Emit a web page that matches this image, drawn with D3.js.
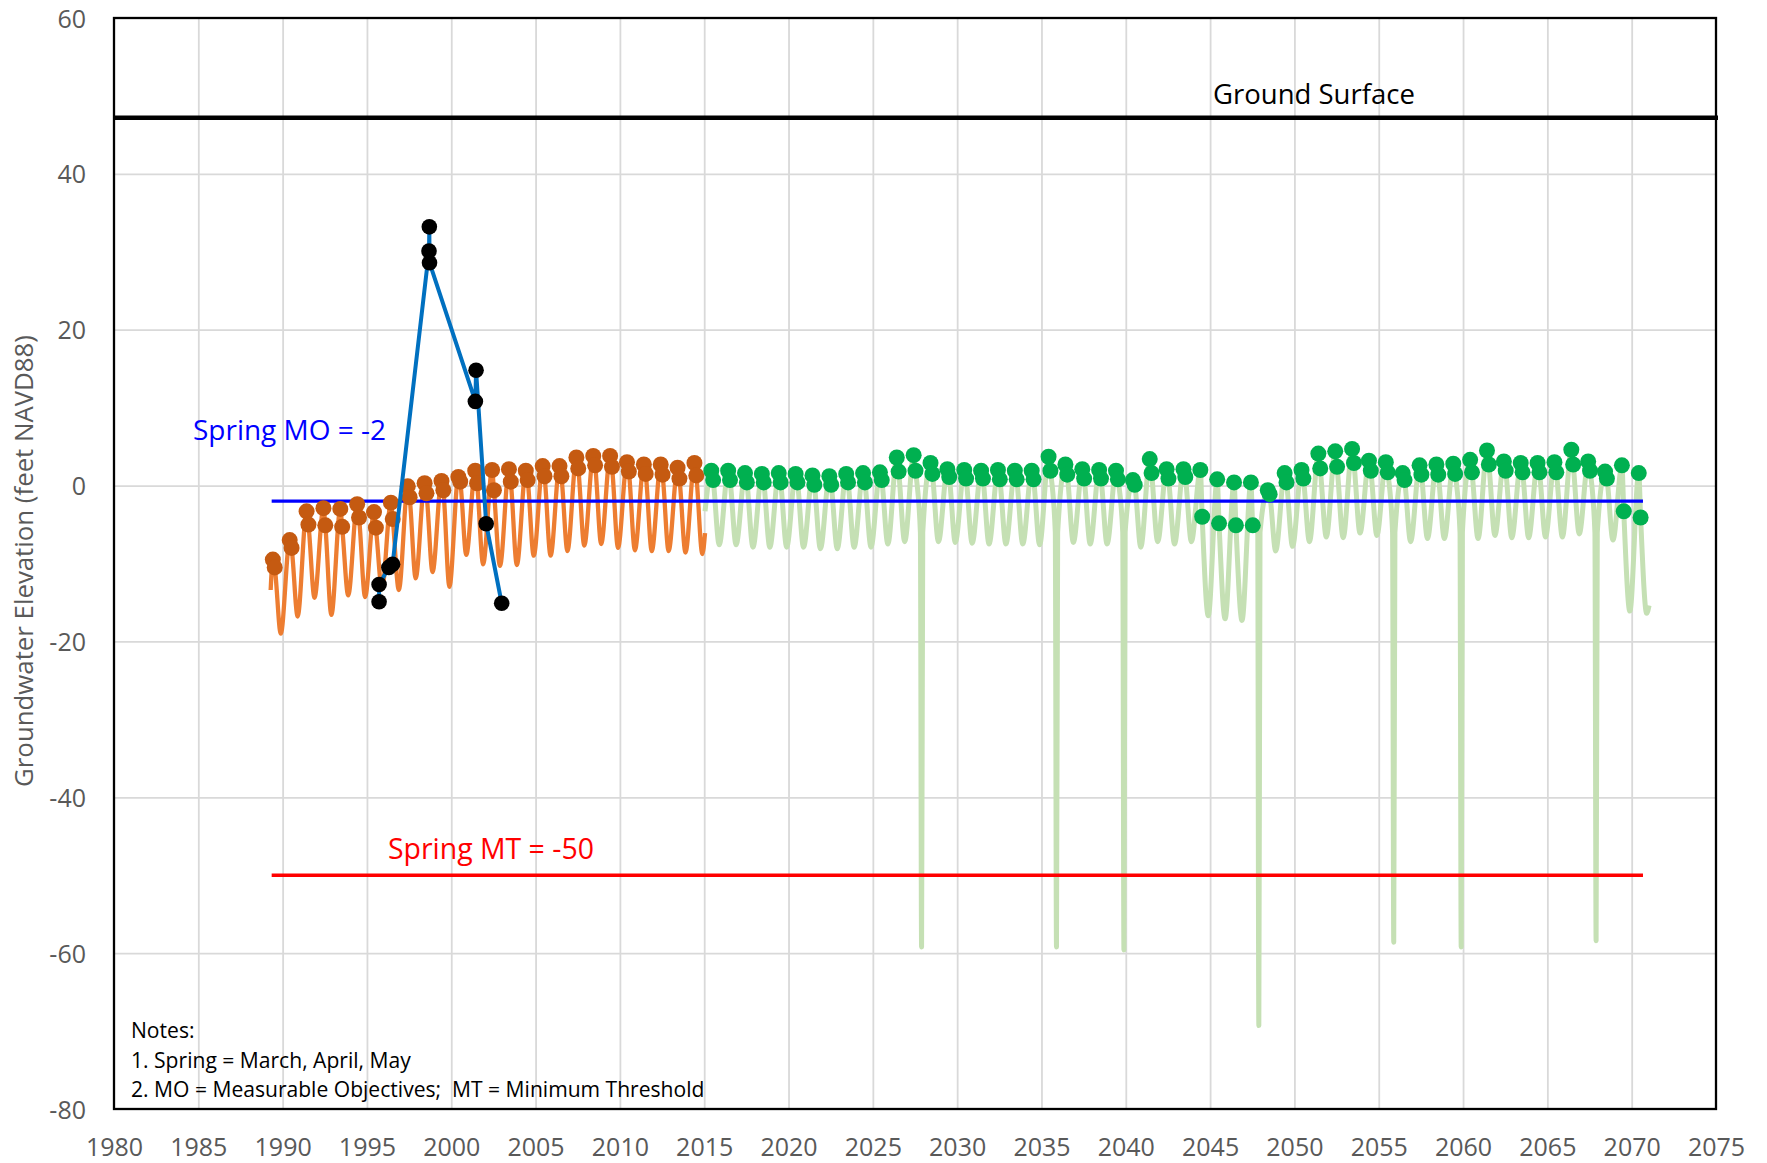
<!DOCTYPE html>
<html><head><meta charset="utf-8">
<script src="https://cdn.jsdelivr.net/npm/d3@7"></script>
<style>html,body{margin:0;padding:0;background:#fff;} svg{display:block;font-family:"Open Sans",sans-serif;}</style>
</head><body><svg id="chart" width="1767" height="1163"></svg>
<script>
// ---------- axis ticks ----------
const xTicks = [1980,1985,1990,1995,2000,2005,2010,2015,2020,2025,2030,2035,2040,2045,2050,2055,2060,2065,2070,2075];
const yTicks = [-80,-60,-40,-20,0,20,40,60];

// ---------- reference levels ----------
const groundSurface = 47.2;
const springMO = -2;
const springMT = -50;
const thresholdSpan = [1989.35, 2070.67];

// ---------- historical (orange) ----------
const histYears   = [1989,1990,1991,1992,1993,1994,1995,1996,1997,1998,1999,2000,2001,2002,2003,2004,2005,2006,2007,2008,2009,2010,2011,2012,2013,2014];
const histSpringA = [-9.5,-7.0,-3.3,-2.9,-3.0,-2.4,-3.4,-2.2,-0.1,0.3,0.6,1.1,1.9,2.0,2.1,1.9,2.5,2.5,3.6,3.8,3.8,3.0,2.7,2.7,2.3,2.9];
const histSpringB = [-10.5,-8.0,-5.0,-5.1,-5.3,-4.1,-5.4,-4.3,-1.5,-1.0,-0.6,0.5,0.3,-0.6,0.5,0.7,1.2,1.2,2.2,2.6,2.4,1.8,1.5,1.4,0.9,1.3];
const histTrough  = [-19.0,-16.8,-14.4,-16.6,-14.1,-14.3,-13.3,-13.4,-11.9,-11.1,-13.0,-8.9,-10.1,-10.3,-10.2,-9.0,-9.0,-8.4,-7.7,-7.5,-8.0,-8.3,-8.4,-8.4,-8.6,-8.8];
const histStart = [1989.29, -13.4];
const histEnd   = [2015.05, -6.1];

// ---------- projected (green) ----------
const projYears   = [2015,2016,2017,2018,2019,2020,2021,2022,2023,2024,2025,2026,2027,2028,2029,2030,2031,2032,2033,2034,2035,2036,2037,2038,2039,2040,2041,2042,2043,2044,2045,2046,2047,2048,2049,2050,2051,2052,2053,2054,2055,2056,2057,2058,2059,2060,2061,2062,2063,2064,2065,2066,2067,2068,2069,2070];
const projSpringA = [1.9,1.9,1.6,1.5,1.6,1.5,1.3,1.2,1.5,1.6,1.7,3.6,3.9,2.9,2.1,2.0,1.9,2.0,1.9,1.9,3.7,2.7,2.1,2.0,1.9,0.7,3.4,2.1,2.1,2.0,0.8,0.4,0.4,-0.6,1.6,2.0,4.1,4.4,4.7,3.2,3.0,1.6,2.6,2.7,2.8,3.3,4.5,3.1,2.9,2.9,3.0,4.6,3.1,1.8,2.6,1.6];
const projSpringB = [0.7,0.7,0.4,0.4,0.4,0.4,0.1,0.1,0.4,0.4,0.7,1.8,1.9,1.5,1.1,0.9,0.9,0.8,0.8,0.8,1.9,1.4,0.9,0.9,0.8,0.1,1.6,0.9,1.1,-4.0,-4.85,-5.1,-5.1,-1.1,0.4,0.9,2.2,2.4,2.9,1.9,1.7,0.7,1.4,1.4,1.5,1.7,2.7,1.9,1.7,1.7,1.7,2.7,1.9,0.9,-3.3,-4.1];
const projTrough  = [-7.6,-7.6,-7.9,-7.9,-7.9,-7.9,-8.1,-8.1,-7.9,-7.9,-7.5,-7.2,-59.2,-7.2,-7.3,-7.4,-7.5,-7.5,-7.5,-7.6,-59.2,-7.3,-7.5,-7.5,-59.6,-7.9,-7.2,-7.5,-7.2,-16.7,-17.1,-17.3,-69.3,-8.4,-7.8,-7.2,-6.6,-6.7,-6.1,-6.4,-58.6,-7.2,-6.8,-6.8,-59.2,-6.8,-6.4,-6.7,-6.7,-6.6,-6.6,-6.2,-58.4,-7.0,-16.1,-16.4];
const projStart = [2015.05, -3.3];
const projEnd   = [2071.03, -15.4];
const spikeShoulder = -6.0;

// timing within each year (fraction of year) of spring readings and seasonal low
const springOffsetA = 0.42, springOffsetB = 0.53, troughOffset = 0.89, spikeHalfWidth = 0.07;

// ---------- measured well data (blue line, black dots) ----------
const measDates  = [1995.72,1995.72,1996.30,1996.52,1998.68,1998.70,1998.71,2001.43,2001.47,2002.07,2002.99];
const measValues = [-14.9,-12.7,-10.5,-10.1,30.1,33.2,28.6,10.8,14.8,-4.9,-15.1];

// ---------- notes ----------
const notes = ["Notes:", "1. Spring = March, April, May", "2. MO = Measurable Objectives;  MT = Minimum Threshold"];

// =====================================================
const svg = d3.select("#chart");
const L = 114, R = 1716, T = 18, B = 1109;
const x = d3.scaleLinear().domain([1980, 2075]).range([L, R]);
const y = d3.scaleLinear().domain([-80, 60]).range([B, T]);
const plainFmt = d => String(d);

// gridlines
const gx = svg.append("g").attr("transform", `translate(0,${B})`)
  .call(d3.axisBottom(x).tickValues(xTicks.slice(1, -1)).tickSize(-(B - T)).tickFormat(""));
gx.select(".domain").remove();
gx.selectAll("line").attr("stroke", "#D9D9D9").attr("stroke-width", 1.8);
const gy = svg.append("g").attr("transform", `translate(${L},0)`)
  .call(d3.axisLeft(y).tickValues(yTicks.slice(1, -1)).tickSize(-(R - L)).tickFormat(""));
gy.select(".domain").remove();
gy.selectAll("line").attr("stroke", "#D9D9D9").attr("stroke-width", 1.8);

// tick labels
const ax = svg.append("g").attr("transform", `translate(0,${B})`)
  .call(d3.axisBottom(x).tickValues(xTicks).tickSize(0).tickFormat(plainFmt));
ax.select(".domain").remove();
ax.selectAll("text").attr("y", 47).attr("dy", null)
  .attr("font-size", 25).attr("font-family", "Open Sans").attr("fill", "#595959");
const ay = svg.append("g").attr("transform", `translate(${L},0)`)
  .call(d3.axisLeft(y).tickValues(yTicks).tickSize(0).tickFormat(plainFmt));
ay.select(".domain").remove();
ay.selectAll("text").attr("x", -28).attr("dy", 9)
  .attr("font-size", 25).attr("font-family", "Open Sans").attr("fill", "#595959");

// helper to fit text width
function fit(sel, w) {
  const cur = sel.node().getComputedTextLength();
  const fs = parseFloat(sel.attr("font-size"));
  sel.attr("font-size", fs * w / cur);
  return fs * w / cur;
}

// axis title
const yt = svg.append("text").attr("transform", `translate(33,561) rotate(-90)`)
  .attr("text-anchor", "middle").attr("font-size", 24).attr("fill", "#595959")
  .text("Groundwater Elevation (feet NAVD88)");
fit(yt, 452);

// series building
const histPts = [histStart];
histYears.forEach((yr, i) => {
  histPts.push([yr + springOffsetA, histSpringA[i]]);
  histPts.push([yr + springOffsetB, histSpringB[i]]);
  histPts.push([yr + troughOffset, histTrough[i]]);
});
histPts.push(histEnd);

const projPts = [projStart];
projYears.forEach((yr, i) => {
  projPts.push([yr + springOffsetA, projSpringA[i]]);
  projPts.push([yr + springOffsetB, projSpringB[i]]);
  if (projTrough[i] < -30) {
    projPts.push([yr + troughOffset - spikeHalfWidth, spikeShoulder]);
    projPts.push([yr + troughOffset, projTrough[i]]);
    projPts.push([yr + troughOffset + spikeHalfWidth, spikeShoulder]);
  } else {
    projPts.push([yr + troughOffset, projTrough[i]]);
  }
});
projPts.push(projEnd);

const line = d3.line().x(d => x(d[0])).y(d => y(d[1])).curve(d3.curveMonotoneX);

svg.append("path").datum(projPts).attr("d", line)
  .attr("fill", "none").attr("stroke", "#C5E0B4").attr("stroke-width", 5).attr("stroke-linejoin", "round");
svg.append("path").datum(histPts).attr("d", line)
  .attr("fill", "none").attr("stroke", "#ED7D31").attr("stroke-width", 4.3).attr("stroke-linejoin", "round");

// threshold lines
[[springMO, "#0000FF"], [springMT, "#FF0000"]].forEach(([v, c]) => {
  svg.append("line").attr("x1", x(thresholdSpan[0])).attr("x2", x(thresholdSpan[1]))
    .attr("y1", y(v)).attr("y2", y(v)).attr("stroke", c).attr("stroke-width", 3.4);
});

// plot border
svg.append("rect").attr("x", L).attr("y", T).attr("width", R - L).attr("height", B - T)
  .attr("fill", "none").attr("stroke", "#000").attr("stroke-width", 2.3);

// ground surface line
svg.append("line").attr("x1", L).attr("x2", R + 2).attr("y1", y(groundSurface)).attr("y2", y(groundSurface))
  .attr("stroke", "#000").attr("stroke-width", 4.5);

// spring dots
const springDots = (years, a, b, color) => {
  const pts = [];
  years.forEach((yr, i) => { pts.push([yr + springOffsetA, a[i]]); pts.push([yr + springOffsetB, b[i]]); });
  svg.append("g").selectAll("circle").data(pts).join("circle")
    .attr("cx", d => x(d[0])).attr("cy", d => y(d[1])).attr("r", 8).attr("fill", color);
};
springDots(histYears, histSpringA, histSpringB, "#C55A11");
springDots(projYears, projSpringA, projSpringB, "#00B050");

// measured
const meas = measDates.map((d, i) => [d, measValues[i]]);
svg.append("path").datum(meas).attr("d", d3.line().x(d => x(d[0])).y(d => y(d[1])))
  .attr("fill", "none").attr("stroke", "#0070C0").attr("stroke-width", 4).attr("stroke-linejoin", "round");
svg.append("g").selectAll("circle").data(meas).join("circle")
  .attr("cx", d => x(d[0])).attr("cy", d => y(d[1])).attr("r", 7.8).attr("fill", "#000");

// labels
const gs = svg.append("text").attr("x", 1213).attr("y", 104).attr("font-size", 27).attr("fill", "#000").text("Ground Surface");
fit(gs, 202);
const mo = svg.append("text").attr("x", 193).attr("y", 440).attr("font-size", 27).attr("fill", "#0000FF").text("Spring MO = -2");
fit(mo, 193);
const mt = svg.append("text").attr("x", 388).attr("y", 859).attr("font-size", 27).attr("fill", "#FF0000").text("Spring MT = -50");
fit(mt, 206);

const noteBase = [1038, 1067.5, 1096.5];
const nt = svg.append("g").selectAll("text").data(notes).join("text")
  .attr("x", 131).attr("y", (d, i) => noteBase[i]).attr("font-size", 20).attr("fill", "#000")
  .attr("xml:space", "preserve").style("white-space", "pre").text(d => d);
const lastW = nt.nodes()[2].getComputedTextLength();
nt.attr("font-size", 20 * 574 / lastW);
</script></body></html>
